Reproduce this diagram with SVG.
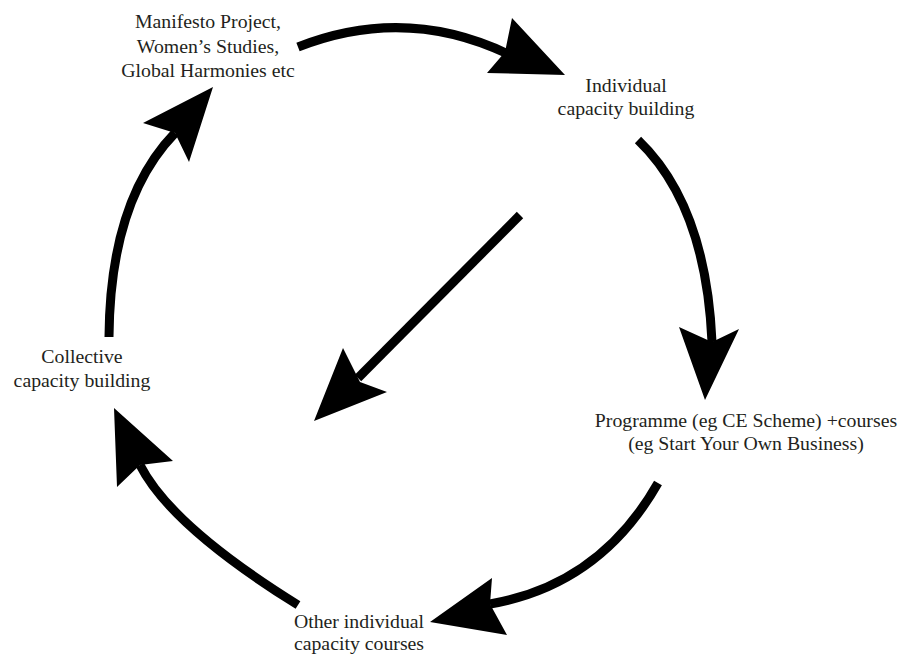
<svg xmlns="http://www.w3.org/2000/svg" width="901" height="656" viewBox="0 0 901 656">
<style>
.lbl{font-family:"Liberation Serif","DejaVu Serif",serif;font-size:19.8px;fill:#231f20;text-anchor:middle}
.ln{fill:none;stroke:#000;stroke-width:9}
.hd{fill:#000}
</style>
<rect width="901" height="656" fill="#fff"/>
<g id="connectors">
<path class="ln" d="M298,47 Q405,5 508,54"/>
<polygon class="hd" points="565,75 487,73 505,52 512,18"/>
<path class="ln" d="M638,140 Q706,205 712,342"/>
<polygon class="hd" points="705,400 679,327 712,342 739,329"/>
<path class="ln" d="M658,483 Q600,585 490,604"/>
<polygon class="hd" points="430,622 492,578 490,604 507,635"/>
<path class="ln" d="M298,605 Q171,526 140,465"/>
<polygon class="hd" points="114,408 173,461 140,465 117,487"/>
<path class="ln" d="M109,337 Q110,200 175,133"/>
<polygon class="hd" points="213,87 143,123 175,133 189,162"/>
<path class="ln" d="M520,215 L358,378"/>
<polygon class="hd" points="314,421 343,348 360,382 387,392"/>
</g>
<g id="node-manifesto">
<text class="lbl" x="208" y="28">Manifesto Project,</text>
<text class="lbl" x="208" y="53">Women’s Studies,</text>
<text class="lbl" x="208" y="77">Global Harmonies etc</text>
</g>
<g id="node-individual">
<text class="lbl" x="626" y="92">Individual</text>
<text class="lbl" x="626" y="115">capacity building</text>
</g>
<g id="node-programme">
<text class="lbl" x="746" y="427">Programme (eg CE Scheme) +courses</text>
<text class="lbl" x="746" y="450">(eg Start Your Own Business)</text>
</g>
<g id="node-other">
<text class="lbl" x="359" y="628">Other individual</text>
<text class="lbl" x="359" y="650">capacity courses</text>
</g>
<g id="node-collective">
<text class="lbl" x="82" y="363">Collective</text>
<text class="lbl" x="82" y="387">capacity building</text>
</g>
</svg>
